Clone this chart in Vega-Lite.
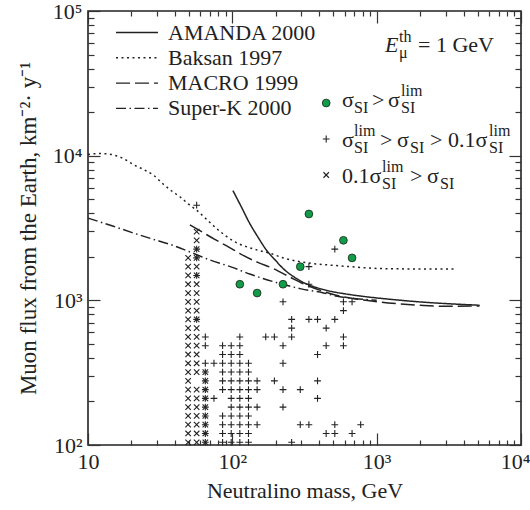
{
"$schema":"https://vega.github.io/schema/vega-lite/v6.json",
"width":433,"height":434,
"autosize":{"type":"none"},
"padding":{"left":88,"top":11,"right":9,"bottom":65},
"background":"white",
"config":{"font":"Liberation Serif","view":{"stroke":"#222","strokeWidth":1.6},
"axis":{"grid":false,"domain":false,"labelFont":"Liberation Serif","titleFont":"Liberation Serif","labelFontSize":22,"titleFontSize":22,"titleFontWeight":"normal","labelColor":"#222","titleColor":"#222","tickColor":"#333","tickWidth":1.2,"labelOverlap":false,"labelFlush":false}},
"datasets":{
"curves":[
{"s":"AMANDA 2000","m":101,"f":5730},{"s":"AMANDA 2000","m":115,"f":4460},{"s":"AMANDA 2000","m":132,"f":3400},{"s":"AMANDA 2000","m":150,"f":2750},{"s":"AMANDA 2000","m":172,"f":2230},{"s":"AMANDA 2000","m":200,"f":1880},{"s":"AMANDA 2000","m":224,"f":1665},{"s":"AMANDA 2000","m":250,"f":1520},{"s":"AMANDA 2000","m":277,"f":1420},{"s":"AMANDA 2000","m":310,"f":1330},{"s":"AMANDA 2000","m":342,"f":1276},{"s":"AMANDA 2000","m":400,"f":1210},{"s":"AMANDA 2000","m":496,"f":1147},{"s":"AMANDA 2000","m":600,"f":1110},{"s":"AMANDA 2000","m":843,"f":1059},{"s":"AMANDA 2000","m":1200,"f":1020},{"s":"AMANDA 2000","m":2000,"f":975},{"s":"AMANDA 2000","m":3000,"f":950},{"s":"AMANDA 2000","m":5160,"f":925},
{"s":"Baksan 1997","m":10,"f":10200},{"s":"Baksan 1997","m":12,"f":10350},{"s":"Baksan 1997","m":14,"f":10250},{"s":"Baksan 1997","m":17,"f":9700},{"s":"Baksan 1997","m":21,"f":8600},{"s":"Baksan 1997","m":25,"f":7900},{"s":"Baksan 1997","m":28.3,"f":7345},{"s":"Baksan 1997","m":33,"f":6400},{"s":"Baksan 1997","m":38,"f":5700},{"s":"Baksan 1997","m":43.3,"f":5200},{"s":"Baksan 1997","m":50,"f":4600},{"s":"Baksan 1997","m":56.4,"f":4206},{"s":"Baksan 1997","m":70,"f":3450},{"s":"Baksan 1997","m":82,"f":3000},{"s":"Baksan 1997","m":100,"f":2600},{"s":"Baksan 1997","m":112,"f":2450},{"s":"Baksan 1997","m":130,"f":2320},{"s":"Baksan 1997","m":150,"f":2220},{"s":"Baksan 1997","m":186,"f":2100},{"s":"Baksan 1997","m":230,"f":1950},{"s":"Baksan 1997","m":262,"f":1890},{"s":"Baksan 1997","m":325,"f":1820},{"s":"Baksan 1997","m":450,"f":1760},{"s":"Baksan 1997","m":650,"f":1710},{"s":"Baksan 1997","m":900,"f":1670},{"s":"Baksan 1997","m":1500,"f":1650},{"s":"Baksan 1997","m":3436,"f":1644},
{"s":"MACRO 1999","m":50.8,"f":3320},{"s":"MACRO 1999","m":60,"f":3020},{"s":"MACRO 1999","m":75,"f":2650},{"s":"MACRO 1999","m":100,"f":2260},{"s":"MACRO 1999","m":112,"f":2114},{"s":"MACRO 1999","m":150,"f":1830},{"s":"MACRO 1999","m":191,"f":1664},{"s":"MACRO 1999","m":250,"f":1450},{"s":"MACRO 1999","m":325,"f":1276},{"s":"MACRO 1999","m":420,"f":1160},{"s":"MACRO 1999","m":552,"f":1071},{"s":"MACRO 1999","m":700,"f":1025},{"s":"MACRO 1999","m":843,"f":1000},{"s":"MACRO 1999","m":1200,"f":960},{"s":"MACRO 1999","m":2000,"f":925},{"s":"MACRO 1999","m":3000,"f":910},{"s":"MACRO 1999","m":5160,"f":915},
{"s":"Super-K 2000","m":10,"f":3700},{"s":"Super-K 2000","m":15,"f":3250},{"s":"Super-K 2000","m":20,"f":2950},{"s":"Super-K 2000","m":28.3,"f":2642},{"s":"Super-K 2000","m":36.9,"f":2440},{"s":"Super-K 2000","m":49.4,"f":2185},{"s":"Super-K 2000","m":70,"f":1900},{"s":"Super-K 2000","m":100,"f":1690},{"s":"Super-K 2000","m":132,"f":1520},{"s":"Super-K 2000","m":224,"f":1290},{"s":"Super-K 2000","m":300,"f":1200},{"s":"Super-K 2000","m":423,"f":1130},{"s":"Super-K 2000","m":523,"f":1071},{"s":"Super-K 2000","m":700,"f":1030},{"s":"Super-K 2000","m":1000,"f":1000}
],
"pts":[
{"m":49.4,"f":104.4,"k":"x"},{"m":49.4,"f":120.1,"k":"x"},{"m":49.4,"f":138.1,"k":"x"},{"m":49.4,"f":158.8,"k":"x"},{"m":49.4,"f":182.6,"k":"x"},{"m":49.4,"f":210,"k":"x"},{"m":49.4,"f":241.5,"k":"x"},{"m":49.4,"f":277.7,"k":"x"},{"m":49.4,"f":319.3,"k":"x"},{"m":49.4,"f":367.3,"k":"x"},{"m":49.4,"f":422.3,"k":"x"},{"m":49.4,"f":485.7,"k":"x"},{"m":49.4,"f":558.5,"k":"x"},{"m":49.4,"f":642.3,"k":"x"},{"m":49.4,"f":738.6,"k":"x"},{"m":49.4,"f":849.4,"k":"x"},{"m":49.4,"f":976.8,"k":"x"},{"m":49.4,"f":1123,"k":"x"},{"m":49.4,"f":1292,"k":"x"},{"m":49.4,"f":1486,"k":"x"},{"m":49.4,"f":1709,"k":"x"},{"m":49.4,"f":1965,"k":"x"},
{"m":56.6,"f":104.4,"k":"x"},{"m":56.6,"f":120.1,"k":"x"},{"m":56.6,"f":138.1,"k":"x"},{"m":56.6,"f":158.8,"k":"x"},{"m":56.6,"f":182.6,"k":"x"},{"m":56.6,"f":210,"k":"x"},{"m":56.6,"f":241.5,"k":"x"},{"m":56.6,"f":319.3,"k":"x"},{"m":56.6,"f":367.3,"k":"x"},{"m":56.6,"f":422.3,"k":"x"},{"m":56.6,"f":485.7,"k":"x"},{"m":56.6,"f":558.5,"k":"x"},{"m":56.6,"f":642.3,"k":"x"},{"m":56.6,"f":738.6,"k":"x"},{"m":56.6,"f":849.4,"k":"x"},{"m":56.6,"f":976.8,"k":"x"},{"m":56.6,"f":1123,"k":"x"},{"m":56.6,"f":1292,"k":"x"},{"m":56.6,"f":1486,"k":"x"},{"m":56.6,"f":1709,"k":"x"},{"m":56.6,"f":1965,"k":"x"},{"m":56.6,"f":2260,"k":"x"},{"m":56.6,"f":2599,"k":"x"},{"m":56.6,"f":2989,"k":"x"},
{"m":65,"f":104.4,"k":"x"},{"m":65,"f":120.1,"k":"x"},{"m":65,"f":138.1,"k":"x"},{"m":65,"f":158.8,"k":"x"},{"m":65,"f":182.6,"k":"x"},{"m":65,"f":210,"k":"x"},{"m":65,"f":241.5,"k":"x"},{"m":65,"f":277.7,"k":"x"},{"m":65,"f":319.3,"k":"x"},
{"m":56.6,"f":738.6,"k":"p"},{"m":56.6,"f":1486,"k":"p"},{"m":56.6,"f":1965,"k":"p"},{"m":56.6,"f":2260,"k":"p"},{"m":56.6,"f":4546,"k":"p"},
{"m":65,"f":104.4,"k":"p"},{"m":65,"f":120.1,"k":"p"},{"m":65,"f":138.1,"k":"p"},{"m":65,"f":158.8,"k":"p"},{"m":65,"f":182.6,"k":"p"},{"m":65,"f":210,"k":"p"},{"m":65,"f":241.5,"k":"p"},{"m":65,"f":277.7,"k":"p"},{"m":65,"f":319.3,"k":"p"},{"m":65,"f":367.3,"k":"p"},{"m":65,"f":485.7,"k":"p"},{"m":65,"f":558.5,"k":"p"},
{"m":74.6,"f":210,"k":"p"},{"m":74.6,"f":367.3,"k":"p"},
{"m":85.6,"f":104.4,"k":"p"},{"m":85.6,"f":120.1,"k":"p"},{"m":85.6,"f":138.1,"k":"p"},{"m":85.6,"f":158.8,"k":"p"},{"m":85.6,"f":241.5,"k":"p"},{"m":85.6,"f":277.7,"k":"p"},{"m":85.6,"f":319.3,"k":"p"},{"m":85.6,"f":367.3,"k":"p"},{"m":85.6,"f":422.3,"k":"p"},{"m":85.6,"f":485.7,"k":"p"},
{"m":98.2,"f":104.4,"k":"p"},{"m":98.2,"f":120.1,"k":"p"},{"m":98.2,"f":138.1,"k":"p"},{"m":98.2,"f":158.8,"k":"p"},{"m":98.2,"f":182.6,"k":"p"},{"m":98.2,"f":210,"k":"p"},{"m":98.2,"f":241.5,"k":"p"},{"m":98.2,"f":277.7,"k":"p"},{"m":98.2,"f":319.3,"k":"p"},{"m":98.2,"f":367.3,"k":"p"},{"m":98.2,"f":422.3,"k":"p"},{"m":98.2,"f":485.7,"k":"p"},
{"m":112.7,"f":104.4,"k":"p"},{"m":112.7,"f":120.1,"k":"p"},{"m":112.7,"f":138.1,"k":"p"},{"m":112.7,"f":158.8,"k":"p"},{"m":112.7,"f":182.6,"k":"p"},{"m":112.7,"f":210,"k":"p"},{"m":112.7,"f":241.5,"k":"p"},{"m":112.7,"f":277.7,"k":"p"},{"m":112.7,"f":319.3,"k":"p"},{"m":112.7,"f":367.3,"k":"p"},{"m":112.7,"f":422.3,"k":"p"},{"m":112.7,"f":485.7,"k":"p"},{"m":112.7,"f":558.5,"k":"p"},
{"m":129.4,"f":104.4,"k":"p"},{"m":129.4,"f":120.1,"k":"p"},{"m":129.4,"f":138.1,"k":"p"},{"m":129.4,"f":158.8,"k":"p"},{"m":129.4,"f":182.6,"k":"p"},{"m":129.4,"f":210,"k":"p"},{"m":129.4,"f":241.5,"k":"p"},{"m":129.4,"f":277.7,"k":"p"},{"m":129.4,"f":319.3,"k":"p"},{"m":129.4,"f":367.3,"k":"p"},
{"m":148.5,"f":138.1,"k":"p"},{"m":148.5,"f":182.6,"k":"p"},{"m":148.5,"f":241.5,"k":"p"},{"m":148.5,"f":277.7,"k":"p"},
{"m":170.4,"f":558.5,"k":"p"},
{"m":195.6,"f":277.7,"k":"p"},{"m":195.6,"f":558.5,"k":"p"},
{"m":224.4,"f":182.6,"k":"p"},{"m":224.4,"f":241.5,"k":"p"},{"m":224.4,"f":367.3,"k":"p"},{"m":224.4,"f":485.7,"k":"p"},{"m":224.4,"f":976.8,"k":"p"},
{"m":257.6,"f":104.4,"k":"p"},{"m":257.6,"f":558.5,"k":"p"},{"m":257.6,"f":642.3,"k":"p"},{"m":257.6,"f":738.6,"k":"p"},
{"m":295.6,"f":138.1,"k":"p"},{"m":295.6,"f":241.5,"k":"p"},
{"m":339.2,"f":138.1,"k":"p"},{"m":339.2,"f":738.6,"k":"p"},{"m":339.2,"f":1292,"k":"p"},{"m":339.2,"f":1709,"k":"p"},
{"m":389.3,"f":210,"k":"p"},{"m":389.3,"f":277.7,"k":"p"},{"m":389.3,"f":422.3,"k":"p"},{"m":389.3,"f":738.6,"k":"p"},
{"m":446.8,"f":120.1,"k":"p"},{"m":446.8,"f":485.7,"k":"p"},{"m":446.8,"f":642.3,"k":"p"},
{"m":512.8,"f":120.1,"k":"p"},{"m":512.8,"f":138.1,"k":"p"},{"m":512.8,"f":738.6,"k":"p"},{"m":512.8,"f":2260,"k":"p"},
{"m":588.4,"f":485.7,"k":"p"},{"m":588.4,"f":558.5,"k":"p"},{"m":588.4,"f":849.4,"k":"p"},{"m":588.4,"f":976.8,"k":"p"},
{"m":675.3,"f":120.1,"k":"p"},{"m":675.3,"f":976.8,"k":"p"},
{"m":775,"f":138.1,"k":"p"},
{"m":112.7,"f":1292,"k":"g"},{"m":148.5,"f":1123,"k":"g"},{"m":224.4,"f":1292,"k":"g"},{"m":295.6,"f":1709,"k":"g"},{"m":339.2,"f":3953,"k":"g"},{"m":588.4,"f":2599,"k":"g"},{"m":675.3,"f":1965,"k":"g"},
{"m":447,"f":23120,"k":"g"},{"m":447,"f":13040,"k":"p"},{"m":447,"f":7351,"k":"x"}
],
"txt":[
{"t":"E","m":1142,"f":52070,"s":"it"},{"t":"th","m":1428,"f":61050,"s":"sc"},{"t":"μ","m":1428,"f":47330,"s":"sc"},{"t":"= 1 GeV","m":1934,"f":52070,"s":"main"},
{"t":"σ","m":575.3,"f":21700,"s":"main"},{"t":"SI","m":696.6,"f":19720,"s":"sc"},{"t":">","m":928.3,"f":21700,"s":"main"},{"t":"σ","m":1198,"f":21700,"s":"main"},{"t":"lim","m":1474,"f":25850,"s":"sc"},{"t":"SI","m":1474,"f":19720,"s":"sc"},
{"t":"σ","m":575.3,"f":11480,"s":"main"},{"t":"lim","m":696.6,"f":13680,"s":"sc"},{"t":"SI","m":696.6,"f":10430,"s":"sc"},{"t":">","m":1055,"f":11480,"s":"main"},{"t":"σ","m":1383,"f":11480,"s":"main"},{"t":"SI","m":1702,"f":10430,"s":"sc"},{"t":">","m":2342,"f":11480,"s":"main"},{"t":"0.1σ","m":3121,"f":11480,"s":"main"},{"t":"lim","m":6003,"f":13680,"s":"sc"},{"t":"SI","m":6003,"f":10430,"s":"sc"},
{"t":"0.1σ","m":575.3,"f":6471,"s":"main"},{"t":"lim","m":1089,"f":7712,"s":"sc"},{"t":"SI","m":1089,"f":5884,"s":"sc"},{"t":">","m":1702,"f":6471,"s":"main"},{"t":"σ","m":2233,"f":6471,"s":"main"},{"t":"SI","m":2748,"f":5884,"s":"sc"}
]
},
"layer":[
{"data":{"name":"curves"},
 "mark":{"type":"line","interpolate":"monotone","stroke":"#222","strokeWidth":1.5},
 "encoding":{
  "x":{"field":"m","type":"quantitative","scale":{"type":"log","domain":[10,10000],"nice":false},
   "axis":{"orient":"bottom","values":[10,100,1000,10000],"ticks":false,"labelPadding":6,"labelAlign":{"condition":{"test":"datum.value==10000","value":"right"},"value":"center"},"labelOffset":{"condition":{"test":"datum.value==10000","value":9},"value":0},"labelExpr":"datum.value==10?'10':datum.value==100?'10²':datum.value==1000?'10³':'10⁴'","title":"Neutralino mass, GeV","titlePadding":8}},
  "y":{"field":"f","type":"quantitative","scale":{"type":"log","domain":[100,100000],"nice":false},
   "axis":{"orient":"left","values":[100,1000,10000,100000],"ticks":false,"labelPadding":6,"labelExpr":"datum.value==100?'10²':datum.value==1000?'10³':datum.value==10000?'10⁴':'10⁵'","title":"Muon flux from the Earth, km⁻²· y⁻¹","titleFontSize":23,"titlePadding":12}},
  "strokeDash":{"field":"s","type":"nominal","scale":{"domain":["AMANDA 2000","Baksan 1997","MACRO 1999","Super-K 2000"],"range":[[1,0],[2,3.5],[14,5],[10,3.5,1.5,3.5]]},
   "legend":{"orient":"none","legendX":27,"legendY":10,"title":null,"symbolType":"M-1,0H3","symbolSize":441,"symbolStrokeWidth":1.4,"symbolStrokeColor":"#222","labelFontSize":22,"labelColor":"#222","labelOffset":30,"rowPadding":2.3,"padding":0,"labelLimit":300}}
 }},
{"data":{"name":"pts"},"transform":[{"filter":"datum.k=='g'"}],
 "mark":{"type":"point","shape":"circle","filled":true,"fill":"#119c4a","stroke":"#1d3320","strokeWidth":0.9,"size":60,"opacity":1},
 "encoding":{
  "x":{"field":"m","type":"quantitative","scale":{"type":"log","domain":[10,10000],"nice":false},"axis":{"orient":"bottom","values":[10,100,1000,10000],"labels":false,"tickSize":-12,"title":null}},
  "y":{"field":"f","type":"quantitative","scale":{"type":"log","domain":[100,100000],"nice":false},"axis":{"orient":"left","values":[100,1000,10000,100000],"labels":false,"tickSize":-12,"title":null}}
 }},
{"data":{"name":"pts"},"transform":[{"filter":"datum.k=='p'"}],
 "mark":{"type":"point","shape":"M-1,0H1M0,-1V1","filled":false,"stroke":"#222","strokeWidth":1.1,"size":46,"opacity":1},
 "encoding":{
  "x":{"field":"m","type":"quantitative","scale":{"type":"log","domain":[10,10000],"nice":false},"axis":{"orient":"bottom","values":[20,30,40,50,60,70,80,90,200,300,400,500,600,700,800,900,2000,3000,4000,5000,6000,7000,8000,9000],"labels":false,"tickSize":-5,"title":null}},
  "y":{"field":"f","type":"quantitative","scale":{"type":"log","domain":[100,100000],"nice":false},"axis":{"orient":"left","values":[200,300,400,500,600,700,800,900,2000,3000,4000,5000,6000,7000,8000,9000,20000,30000,40000,50000,60000,70000,80000,90000],"labels":false,"tickSize":-6,"title":null}}
 }},
{"data":{"name":"pts"},"transform":[{"filter":"datum.k=='x'"}],
 "mark":{"type":"point","shape":"M-1,-1L1,1M-1,1L1,-1","filled":false,"stroke":"#222","strokeWidth":1.1,"size":30,"opacity":1},
 "encoding":{
  "x":{"field":"m","type":"quantitative","scale":{"type":"log","domain":[10,10000],"nice":false},"axis":{"orient":"top","values":[10,100,1000,10000],"labels":false,"tickSize":-12,"title":null}},
  "y":{"field":"f","type":"quantitative","scale":{"type":"log","domain":[100,100000],"nice":false},"axis":{"orient":"right","values":[100,1000,10000,100000],"labels":false,"tickSize":-12,"title":null}}
 }},
{"data":{"name":"txt"},"transform":[{"filter":"datum.s=='main'"}],
 "mark":{"type":"text","align":"left","baseline":"alphabetic","fontSize":22,"color":"#222"},
 "encoding":{
  "x":{"field":"m","type":"quantitative","scale":{"type":"log","domain":[10,10000],"nice":false},"axis":{"orient":"top","values":[20,30,40,50,60,70,80,90,200,300,400,500,600,700,800,900,2000,3000,4000,5000,6000,7000,8000,9000],"labels":false,"tickSize":-5,"title":null}},
  "y":{"field":"f","type":"quantitative","scale":{"type":"log","domain":[100,100000],"nice":false},"axis":{"orient":"right","values":[200,300,400,500,600,700,800,900,2000,3000,4000,5000,6000,7000,8000,9000,20000,30000,40000,50000,60000,70000,80000,90000],"labels":false,"tickSize":-6,"title":null}},
  "text":{"field":"t"}
 }},
{"data":{"name":"txt"},"transform":[{"filter":"datum.s=='it'"}],
 "mark":{"type":"text","align":"left","baseline":"alphabetic","fontSize":22,"fontStyle":"italic","color":"#222"},
 "encoding":{
  "x":{"field":"m","type":"quantitative","scale":{"type":"log","domain":[10,10000],"nice":false},"axis":null},
  "y":{"field":"f","type":"quantitative","scale":{"type":"log","domain":[100,100000],"nice":false},"axis":null},
  "text":{"field":"t"}
 }},
{"data":{"name":"txt"},"transform":[{"filter":"datum.s=='sc'"}],
 "mark":{"type":"text","align":"left","baseline":"alphabetic","fontSize":16,"color":"#222"},
 "encoding":{
  "x":{"field":"m","type":"quantitative","scale":{"type":"log","domain":[10,10000],"nice":false},"axis":null},
  "y":{"field":"f","type":"quantitative","scale":{"type":"log","domain":[100,100000],"nice":false},"axis":null},
  "text":{"field":"t"}
 }}
],
"resolve":{"axis":{"x":"independent","y":"independent"}}
}
